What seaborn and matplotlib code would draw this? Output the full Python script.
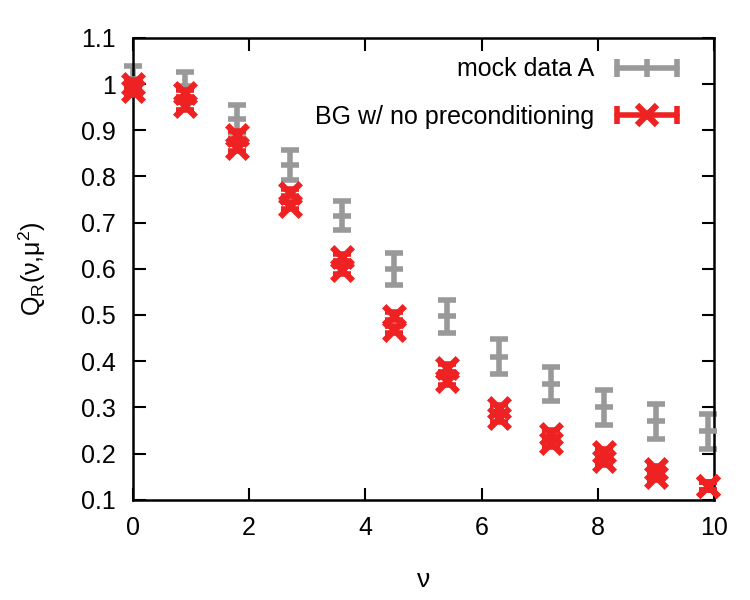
import numpy as np
import matplotlib
matplotlib.use("Agg")
import matplotlib.pyplot as plt
import seaborn as sns
from matplotlib.lines import Line2D
from matplotlib.legend_handler import HandlerLine2D, HandlerTuple

# data
nu = [0.0, 0.9, 1.8, 2.7, 3.6, 4.5, 5.4, 6.3, 7.2, 8.1, 9.0, 9.9]
mock_q = [1.01, 0.995, 0.925, 0.825, 0.715, 0.60, 0.497, 0.41, 0.35, 0.30, 0.27, 0.248]
mock_err = [0.03, 0.03, 0.03, 0.032, 0.032, 0.035, 0.035, 0.037, 0.037, 0.038, 0.038, 0.038]
bg_hi = [1.0, 0.98, 0.89, 0.765, 0.625, 0.498, 0.385, 0.298, 0.243, 0.203, 0.166, 0.13]
bg_lo = [0.985, 0.952, 0.862, 0.737, 0.597, 0.468, 0.357, 0.277, 0.222, 0.183, 0.15, 0.13]
bg_err = [0.008] * len(nu)

gray = "#999999"
red = "#ee2222"

sns.set_theme(style="ticks")
plt.rcParams["font.family"] = ["Liberation Sans", "DejaVu Sans"]
plt.rcParams["mathtext.fontset"] = "custom"
plt.rcParams["mathtext.rm"] = "Liberation Sans"
plt.rcParams["mathtext.it"] = "Liberation Sans"
plt.rcParams["text.color"] = "black"
plt.rcParams["axes.labelcolor"] = "black"

fig = plt.figure(figsize=(7.5, 6), dpi=100)
ax = fig.add_axes([0.177, 0.167, 0.775, 0.770])

# grey mock data: error bars with a '+' point
ax.errorbar(nu, mock_q, yerr=mock_err, fmt="none", ecolor=gray,
            elinewidth=4, capsize=6.5, capthick=4, zorder=2, clip_on=False)
sns.scatterplot(x=nu, y=mock_q, marker="_", s=180, color=gray,
                linewidth=4, ax=ax, zorder=3, clip_on=False)

# red BG points: two close values per nu, drawn as crosses
for vals in (bg_hi, bg_lo):
    ax.errorbar(nu, vals, yerr=bg_err, fmt="none", ecolor=red,
                elinewidth=4, capsize=6.5, capthick=4, zorder=4, clip_on=False)
    sns.scatterplot(x=nu, y=vals, marker="x", s=220, color=red,
                    linewidth=4.5, ax=ax, zorder=5, clip_on=False)

ax.set_xlim(0, 10)
ax.set_ylim(0.1, 1.1)
ax.set_xticks([0, 2, 4, 6, 8, 10])
ax.set_yticks(np.round(np.arange(0.1, 1.101, 0.1), 1))
ax.set_yticklabels(["0.1", "0.2", "0.3", "0.4", "0.5", "0.6", "0.7", "0.8", "0.9", "1", "1.1"])
ax.tick_params(direction="in", length=9, width=1.5, labelsize=18, pad=12,
               top=True, right=True, colors="black")
for sp in ax.spines.values():
    sp.set_visible(True)
    sp.set_linewidth(1.8)
    sp.set_color("black")

ax.set_xlabel("ν", fontsize=19, labelpad=20)
ax.set_ylabel(r"Q$_\mathrm{R}$(ν,μ$^2$)", fontsize=18, labelpad=24)

# gnuplot-like legend keys
cap_g = Line2D([], [], color=gray, lw=4, marker="|", markersize=13, mew=4)
mid_g = Line2D([], [], color=gray, lw=0, marker="|", markersize=13, mew=4)
cap_r = Line2D([], [], color=red, lw=4, marker="|", markersize=13, mew=4)
mid_r = Line2D([], [], color=red, lw=0, marker="x", markersize=15, mew=4.5)
hmap = {cap_g: HandlerLine2D(numpoints=2), mid_g: HandlerLine2D(numpoints=1),
        cap_r: HandlerLine2D(numpoints=2), mid_r: HandlerLine2D(numpoints=1),
        tuple: HandlerTuple(ndivide=1, pad=0)}
ax.legend([(cap_g, mid_g), (cap_r, mid_r)], ["mock data A", "BG w/ no preconditioning"],
          handler_map=hmap, loc="upper right", frameon=False, markerfirst=False,
          fontsize=18, handlelength=3.0, handletextpad=0.6, borderaxespad=0.2,
          labelspacing=0.95, bbox_to_anchor=(0.975, 0.99))

fig.savefig("out.png", dpi=100)
